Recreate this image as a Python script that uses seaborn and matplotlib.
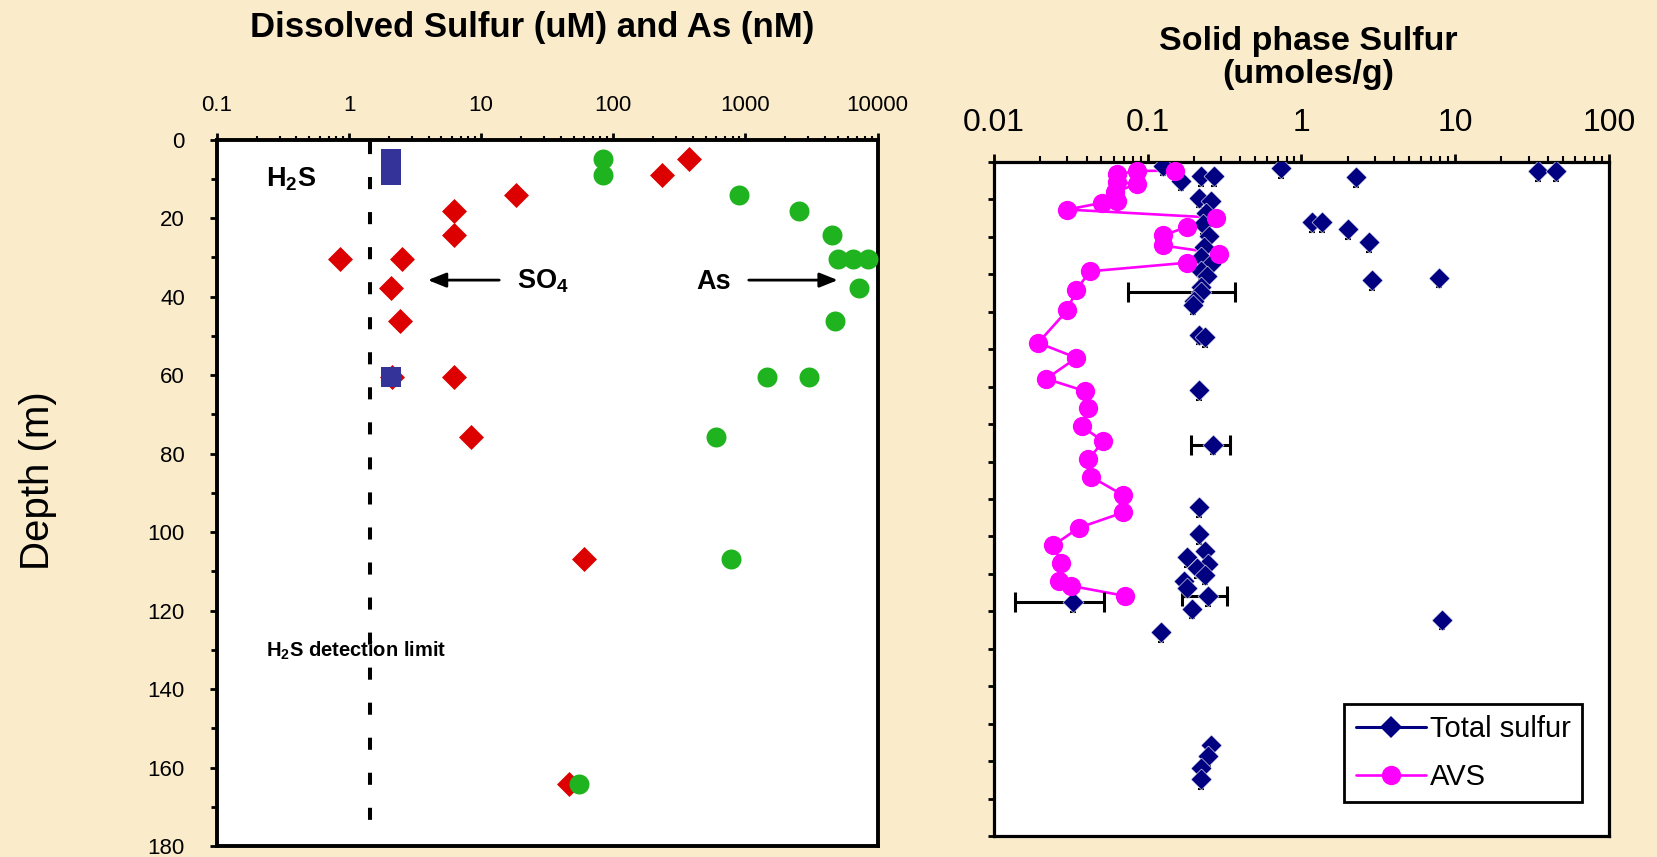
import numpy as np
import pandas as pd
import matplotlib
matplotlib.use("Agg")
import matplotlib.pyplot as plt
import seaborn as sns
from matplotlib.lines import Line2D
from matplotlib.ticker import FixedLocator, LogLocator, FuncFormatter, NullFormatter, MultipleLocator

sns.set_theme(style="white")
plt.rcParams['font.family'] = ['Liberation Sans', 'DejaVu Sans']
plt.rcParams['mathtext.default'] = 'regular'
plt.rcParams['text.color'] = 'black'
plt.rcParams['axes.labelcolor'] = 'black'
plt.rcParams['xtick.color'] = 'black'
plt.rcParams['ytick.color'] = 'black'
plt.rcParams['xtick.labelcolor'] = 'black'
plt.rcParams['ytick.labelcolor'] = 'black'

# ---------------- dissolved profiles (left panel) ----------------
so4_depth = [5, 9, 14, 18.2, 24.2, 30.4, 30.4, 37.9, 46.2, 60.6, 60.6, 75.8, 106.8, 164.3]
so4_uM = [375, 234, 18.3, 6.2, 6.2, 0.86, 2.52, 2.07, 2.42, 2.1, 6.2, 8.4, 60, 46]

as_depth = [5, 9, 14, 18.2, 24.2, 30.4, 30.4, 30.4, 37.9, 46.2, 60.6, 60.6, 75.8, 106.8, 164.3]
as_nM = [83, 83, 900, 2560, 4530, 5000, 6550, 8500, 7220, 4800, 1445, 3010, 598, 776, 55]

h2s_depth = [5, 9, 60.6]
h2s_uM = [2.07, 2.07, 2.07]

h2s_detection_limit = 1.43

# ---------------- solid phase profiles (right panel) ----------------
ts_depth = [1.0, 1.6, 2.4, 2.4, 3.7, 3.7, 4.0, 5.0, 9.5, 10.4, 13.5, 16.1, 16.1, 16.6,
            18.0, 19.7, 21.4, 22.8, 25.5, 27.3, 29.0, 30.4, 30.9, 31.6, 33.5, 34.8,
            37.1, 38.1, 46.1, 46.7, 61.0, 75.5, 92.2, 99.3, 104.0, 105.6, 107.3,
            108.4, 110.2, 112.0, 113.7, 116.0, 117.6, 119.3, 122.2, 125.5,
            155.6, 158.7, 161.8, 164.9]
total_sulfur = [0.125, 0.741, 34.8, 45.5, 0.221, 0.270, 2.28, 0.164, 0.216, 0.257, 0.239,
                1.18, 1.37, 0.23, 2.02, 0.25, 2.76, 0.232, 0.221, 0.257, 0.221, 0.243,
                7.82, 2.87, 0.221, 0.221, 0.2, 0.198, 0.216, 0.235, 0.216, 0.267, 0.216,
                0.216, 0.235, 0.18, 0.246, 0.208, 0.235, 0.173, 0.18, 0.246, 0.0326,
                0.195, 8.18, 0.122, 0.258, 0.246, 0.223, 0.223]
ts_depth_err = 2.6

# replicate spread shown as horizontal error bars
spread_depth = [34.8, 75.5, 116.0, 117.6]
spread_center = [0.221, 0.267, 0.246, 0.0326]
spread_half = [0.147, 0.077, 0.080, 0.019]

avs_depth = [2.3, 2.4, 3.3, 5.4, 5.8, 8.1, 10.5, 10.9, 12.7, 14.9, 17.3, 19.6, 22.3,
             24.5, 26.9, 29.2, 34.1, 39.6, 48.3, 52.3, 57.9, 61.2, 65.7, 70.6, 74.6,
             79.4, 84.0, 89.0, 93.6, 97.7, 102.4, 107.2, 111.9, 113.2, 115.9]
avs = [0.151, 0.0857, 0.0628, 0.0628, 0.0857, 0.061, 0.0628, 0.0507, 0.030, 0.280,
       0.181, 0.1264, 0.1264, 0.293, 0.181, 0.0421, 0.0344, 0.030, 0.0194, 0.0344,
       0.0219, 0.0391, 0.0409, 0.0372, 0.0515, 0.0411, 0.0426, 0.0693, 0.0693,
       0.0356, 0.0243, 0.0274, 0.0263, 0.0317, 0.0716]

dissolved_ticks = [0.1, 1, 10, 100, 1000, 10000]
solid_ticks = [0.01, 0.1, 1, 10, 100]
depth_ticks = [0, 20, 40, 60, 80, 100, 120, 140, 160, 180]

BG = '#FAECCB'
RED = '#DC0000'
GREEN = '#1FB41F'
INDIGO = '#333399'
NAVY = '#000080'
MAGENTA = '#FF00FF'

fig = plt.figure(figsize=(16.58, 8.57), dpi=100, facecolor=BG)

# ======================= left panel =======================
axL = fig.add_axes([0.1308, 0.0128, 0.3985, 0.8243])
axL.set_facecolor('white')
axL.set_xscale('log')

sns.scatterplot(x=so4_uM, y=so4_depth, marker='D', s=162, color=RED,
                linewidth=0, ax=axL, zorder=3)
sns.scatterplot(x=as_nM, y=as_depth, marker='o', s=207, color=GREEN,
                linewidth=0, ax=axL, zorder=4)
sns.scatterplot(x=h2s_uM, y=h2s_depth, marker='s', s=207, color=INDIGO,
                linewidth=0, ax=axL, zorder=5)

axL.plot([h2s_detection_limit, h2s_detection_limit], [0.6, 176], color='black',
         lw=2.9, dashes=(3.0, 5.7), solid_capstyle='butt', dash_capstyle='butt', zorder=2)

axL.set_xlim(0.1, 10000)
axL.set_ylim(180, 0)
axL.set_xlabel('')
axL.set_ylabel('')

axL.text(0.235, 10, 'H$_2$S', fontsize=19.5, fontweight='bold', ha='left', va='center')
axL.text(18.6, 36.2, 'SO$_4$', fontsize=19.5, fontweight='bold', ha='left', va='center')
axL.text(425, 36.2, 'As', fontsize=19.5, fontweight='bold', ha='left', va='center')
axL.text(0.235, 130.2, 'H$_2$S detection limit', fontsize=14.5, fontweight='bold',
         ha='left', va='center')
arrow_kw = dict(arrowstyle='-|>,head_length=0.55,head_width=0.22', color='black',
                lw=2.0, mutation_scale=20, shrinkA=0, shrinkB=0)
axL.annotate('', xy=(3.95, 35.8), xytext=(13.7, 35.8), arrowprops=arrow_kw)
axL.annotate('', xy=(5000, 35.8), xytext=(1060, 35.8), arrowprops=arrow_kw)

axL.xaxis.set_major_locator(FixedLocator(dissolved_ticks))
axL.xaxis.set_minor_locator(LogLocator(base=10, subs=range(2, 10)))
axL.xaxis.set_major_formatter(FuncFormatter(lambda v, p: f"{v:g}"))
axL.xaxis.set_minor_formatter(NullFormatter())
axL.yaxis.set_major_locator(FixedLocator(depth_ticks))
axL.yaxis.set_minor_locator(MultipleLocator(10))
axL.tick_params(axis='x', which='both', top=True, bottom=False, labeltop=True,
                labelbottom=False, direction='out', colors='black')
axL.tick_params(axis='x', which='major', length=5, width=2, labelsize=16, pad=12)
axL.tick_params(axis='x', which='minor', length=3, width=1.5)
axL.tick_params(axis='y', which='both', left=True, right=False, direction='out',
                colors='black')
axL.tick_params(axis='y', which='major', length=5, width=2, labelsize=16, pad=18)
axL.tick_params(axis='y', which='minor', length=4, width=2)
for sp in axL.spines.values():
    sp.set_visible(True)
    sp.set_color('black')
    sp.set_linewidth(2.8)

# ======================= right panel =======================
axR = fig.add_axes([0.5995, 0.0245, 0.3709, 0.7865])
axR.set_facecolor('white')
axR.set_xscale('log')

ts = pd.DataFrame({'depth': ts_depth, 'value': total_sulfur})
av = pd.DataFrame({'depth': avs_depth, 'value': avs})

sns.lineplot(data=av, x='value', y='depth', sort=False, estimator=None,
             color=MAGENTA, lw=1.9, ax=axR, zorder=2)
axR.errorbar(ts['value'], ts['depth'],
             yerr=(np.zeros(len(ts)), np.full(len(ts), ts_depth_err)),
             fmt='none', ecolor='black', elinewidth=1.5, capsize=2.5, capthick=1.5, zorder=2.5)
axR.errorbar(spread_center, spread_depth, xerr=spread_half, fmt='none',
             ecolor='black', elinewidth=2.2, capsize=7, capthick=2.2, zorder=2.6)
sns.scatterplot(data=ts, x='value', y='depth', marker='D', s=114, color=NAVY,
                edgecolor='white', linewidth=0.4, ax=axR, zorder=3)
sns.scatterplot(data=av, x='value', y='depth', marker='o', s=193, color=MAGENTA,
                linewidth=0, ax=axR, zorder=4)

axR.set_xlim(0.01, 100)
axR.set_ylim(180, 0)
axR.set_xlabel('')
axR.set_ylabel('')

axR.xaxis.set_major_locator(FixedLocator(solid_ticks))
axR.xaxis.set_minor_locator(LogLocator(base=10, subs=range(2, 10)))
axR.xaxis.set_major_formatter(FuncFormatter(lambda v, p: f"{v:g}"))
axR.xaxis.set_minor_formatter(NullFormatter())
axR.yaxis.set_major_locator(MultipleLocator(10))
axR.tick_params(axis='x', which='both', top=True, bottom=False, labeltop=True,
                labelbottom=False, direction='out', colors='black')
axR.tick_params(axis='x', which='major', length=6, width=2, labelsize=23, pad=11)
axR.tick_params(axis='x', which='minor', length=4, width=1.5)
axR.tick_params(axis='y', which='major', left=True, right=False, labelleft=False,
                direction='out', length=4, width=2, colors='black')
for sp in axR.spines.values():
    sp.set_visible(True)
    sp.set_color('black')
    sp.set_linewidth(2.3)

handles = [
    Line2D([], [], color=NAVY, lw=2.2, marker='D', markersize=10.7, markeredgewidth=0),
    Line2D([], [], color=MAGENTA, lw=1.9, marker='o', markersize=13.9, markeredgewidth=0),
]
leg = axR.legend(handles, ['Total sulfur', 'AVS'], loc='lower right',
                 bbox_to_anchor=(0.956, 0.050), borderaxespad=0, fontsize=21,
                 frameon=True, fancybox=False, framealpha=1, edgecolor='black',
                 handlelength=2.4, handletextpad=0.15, labelspacing=0.68,
                 borderpad=0.38)
leg.get_frame().set_linewidth(2.0)
for t in leg.get_texts():
    t.set_color('black')

# ======================= titles and shared label =======================
fig.text(532 / 1658, 1 - 27.5 / 857, 'Dissolved Sulfur (uM) and As (nM)',
         fontsize=25, fontweight='bold', ha='center', va='center', color='black')
fig.text(1308.5 / 1658, 1 - 58 / 857, 'Solid phase Sulfur\n(umoles/g)',
         fontsize=24.5, fontweight='bold', ha='center', va='center', linespacing=1.12,
         color='black')
fig.text(38 / 1658, 1 - 481 / 857, 'Depth (m)', fontsize=29, rotation=90,
         ha='center', va='center', color='black')

fig.savefig('out.png', dpi=100, facecolor=BG)
